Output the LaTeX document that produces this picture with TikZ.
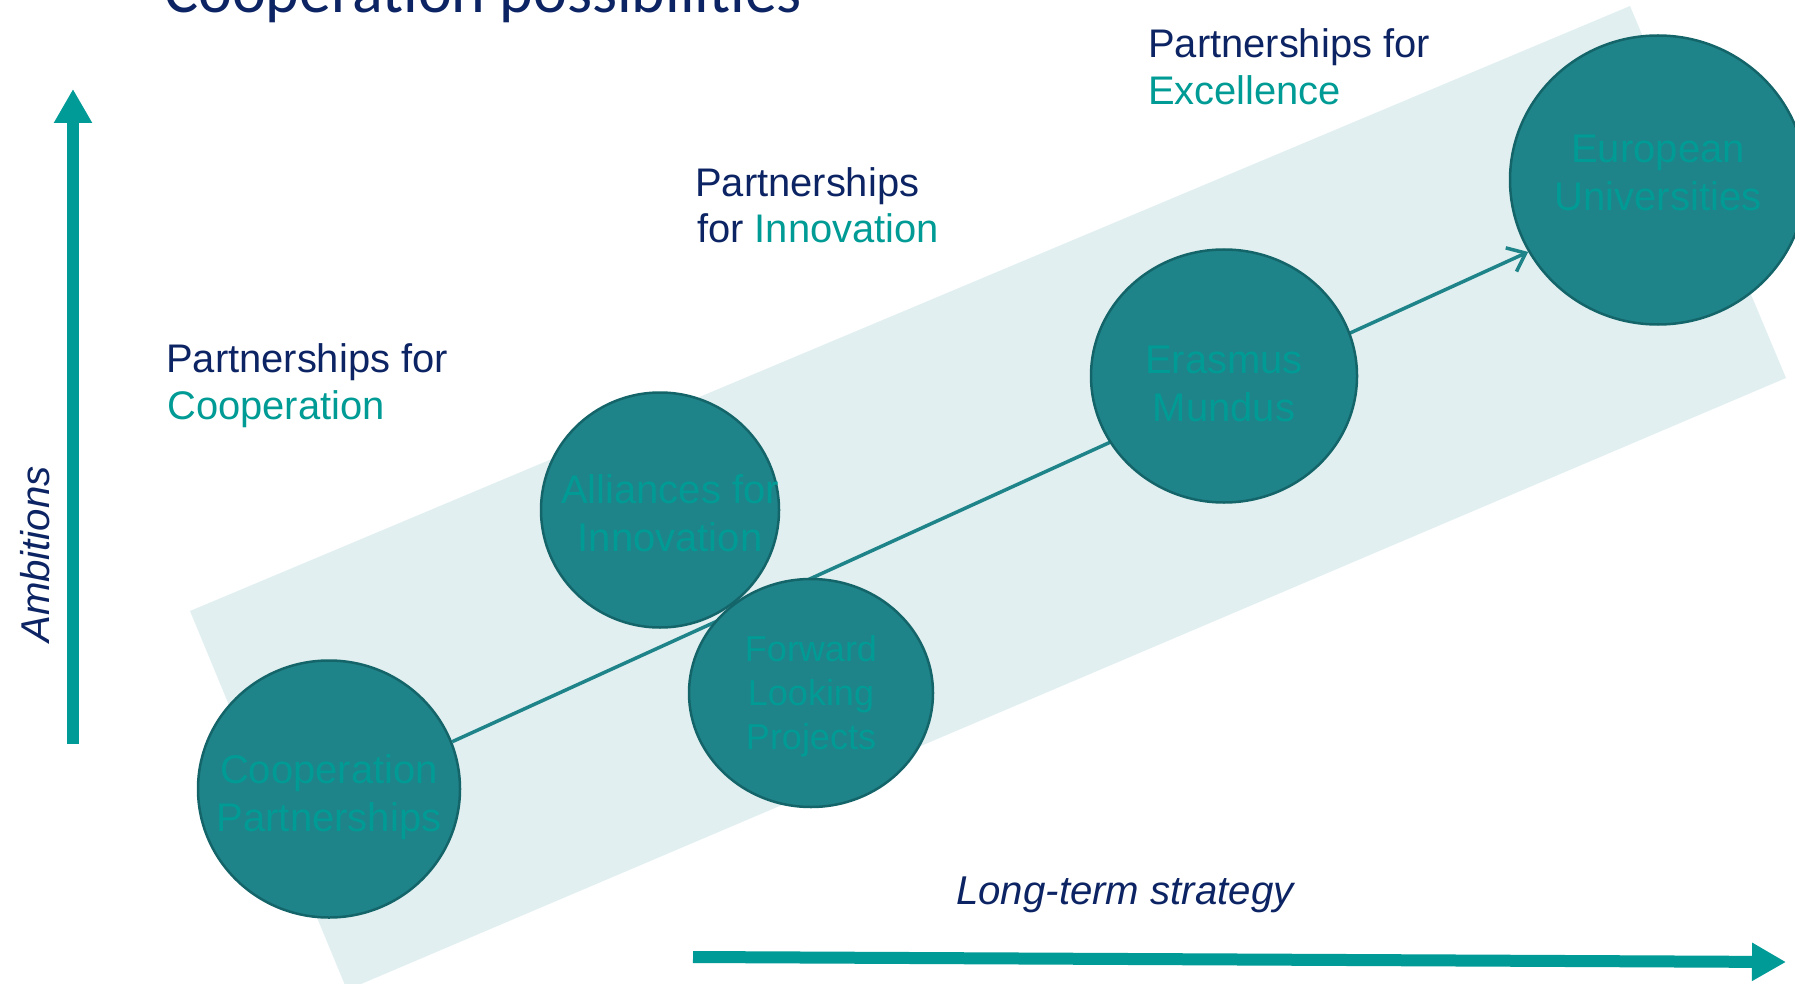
\documentclass[tikz,border=0pt]{standalone}
\usepackage{fontspec}
\setmainfont{Liberation Sans}
\newfontfamily\titlefont{Carlito}
\usetikzlibrary{shapes.geometric,arrows.meta}
\definecolor{navy}{HTML}{0C2463}
\definecolor{tealtext}{HTML}{009B95}
\definecolor{tealarrow}{HTML}{009A97}
\definecolor{bubblefill}{HTML}{1F8489}
\definecolor{bubbleedge}{HTML}{14656A}
\definecolor{bandfill}{HTML}{E1EFF0}
\begin{document}
\begin{tikzpicture}[x=1pt,y=-1pt,
  bubble/.style={ellipse, draw=bubbleedge, line width=2.5pt, fill=bubblefill, inner sep=0pt},
  bubbletext/.style={align=center, text=tealtext, inner sep=0pt, font=\fontsize{40}{48}\selectfont},
  lbl/.style={anchor=base west, inner sep=0pt, font=\fontsize{39.9}{47}\selectfont},
  axislbl/.style={inner sep=0pt, text=navy, font=\fontsize{40.2}{47}\selectfont\itshape},
  bigarrow/.style={draw=tealarrow, line width=12pt, -{Triangle[length=34pt,width=36pt]}},
  conn/.style={draw=bubblefill, line width=3.5pt, -{Straight Barb[length=16pt,width=26pt]}},
]
\clip (0,0) rectangle (1795,984);
% band
\fill[bandfill] (190,611) -- (1630,6) -- (1786,378) -- (347,990) -- cycle;
% title
\node[anchor=base west, inner sep=0pt, text=navy, font=\titlefont\fontsize{64}{72}\selectfont] (title) at (164,13) {Cooperation possibilities};
% bubbles
\node[bubble, minimum width=262pt, minimum height=257pt,
  label={[bubbletext, yshift=-8pt]center:Cooperation\\Partnerships}] (coop) at (329,789) {};
\node[bubble, minimum width=296pt, minimum height=289pt,
  label={[bubbletext, yshift=7pt]center:European\\Universities}] (eu) at (1658,180) {};
\draw[conn] (coop.21.6) -- (eu.209);
\node[bubble, minimum width=238pt, minimum height=235pt,
  label={[bubbletext, xshift=10pt, yshift=-3pt]center:Alliances for\\Innovation}] (ally) at (660,510) {};
\node[bubble, minimum width=244pt, minimum height=228pt,
  label={[bubbletext, yshift=-3pt, font=\fontsize{36}{44}\selectfont]center:Forward\\Looking\\Projects}] (flp) at (811,693) {};
\node[bubble, minimum width=266pt, minimum height=253pt,
  label={[bubbletext, yshift=-8pt]center:Erasmus\\Mundus}] (em) at (1224,376) {};
% level labels
\node[lbl, text=navy] (pc1) at (166,372) {Partnerships for};
\node[lbl, text=tealtext] (pc2) at (167,419) {Cooperation};
\node[lbl, text=navy] (pi1) at (695,197) {Partnerships};
\node[lbl, text=navy] (pi2) at (697,243) {for \textcolor{tealtext}{Innovation}};
\node[lbl, text=navy] (pe1) at (1148,58) {Partnerships for};
\node[lbl, text=tealtext] (pe2) at (1148,105) {Excellence};
% axes
\coordinate (vb) at (73,744);
\coordinate (vt) at (73,89);
\draw[bigarrow] (vb) -- (vt);
\coordinate (hl) at (693,957);
\coordinate (hr) at (1786,962);
\draw[bigarrow] (hl) -- (hr);
\node[axislbl, anchor=base west, rotate=90] (amb) at (49,643) {Ambitions};
\node[axislbl, anchor=base west] (lts) at (956,904) {Long-term strategy};
\end{tikzpicture}
\end{document}
